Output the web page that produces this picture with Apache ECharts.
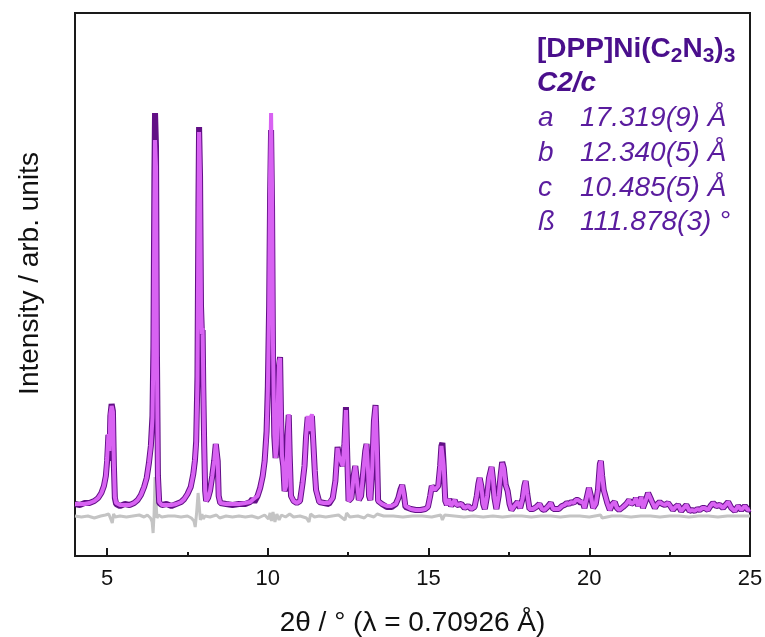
<!DOCTYPE html>
<html>
<head>
<meta charset="utf-8">
<script src="https://cdn.jsdelivr.net/npm/echarts@6/dist/echarts.min.js"></script>
<style>html,body{margin:0;padding:0;background:#fff;}#chart{width:765px;height:637px;}</style>
</head>
<body>
<div id="chart"></div>
<script>
// 2theta positions of the observed / calculated profile
const twoTheta = [4.00,4.15,4.30,4.45,4.60,4.72,4.82,4.90,4.96,5.00,5.04,5.07,5.10,5.14,5.18,5.21,5.24,5.28,5.40,5.55,5.70,5.84,5.95,6.05,6.15,6.23,6.30,6.36,6.41,6.44,6.47,6.49,6.52,6.55,6.58,6.62,6.70,6.85,7.00,7.15,7.30,7.40,7.50,7.60,7.68,7.73,7.77,7.81,7.84,7.86,7.89,7.92,7.95,7.97,7.99,8.02,8.05,8.08,8.14,8.20,8.27,8.33,8.38,8.41,8.44,8.47,8.52,8.70,8.90,9.10,9.30,9.45,9.52,9.58,9.68,9.76,9.84,9.90,9.96,10.00,10.04,10.07,10.10,10.13,10.16,10.20,10.24,10.28,10.32,10.35,10.38,10.41,10.44,10.48,10.52,10.57,10.61,10.65,10.68,10.72,10.80,10.90,11.00,11.08,11.14,11.19,11.24,11.30,11.37,11.42,11.46,11.50,11.54,11.60,11.75,11.90,12.02,12.10,12.17,12.21,12.26,12.33,12.38,12.43,12.47,12.51,12.60,12.67,12.72,12.77,12.83,12.90,12.97,13.03,13.07,13.11,13.15,13.19,13.25,13.30,13.35,13.39,13.43,13.55,13.70,13.85,13.98,14.06,14.13,14.18,14.23,14.28,14.45,14.60,14.75,14.90,14.98,15.05,15.10,15.14,15.19,15.24,15.30,15.36,15.40,15.43,15.47,15.52,15.57,15.63,15.70,15.76,15.81,15.87,15.93,16.02,16.12,16.23,16.33,16.43,16.50,16.55,16.59,16.64,16.70,16.75,16.82,16.88,16.92,16.96,17.00,17.05,17.11,17.18,17.24,17.29,17.34,17.40,17.46,17.52,17.58,17.67,17.77,17.85,17.93,17.98,18.02,18.07,18.14,18.25,18.35,18.45,18.53,18.60,18.70,18.80,18.88,18.94,19.05,19.15,19.23,19.30,19.37,19.44,19.52,19.58,19.65,19.73,19.80,19.85,19.92,19.99,20.05,20.12,20.20,20.27,20.33,20.36,20.40,20.45,20.50,20.56,20.64,20.72,20.79,20.86,20.93,21.05,21.15,21.24,21.30,21.34,21.40,21.45,21.52,21.57,21.62,21.67,21.75,21.83,21.90,21.94,22.04,22.12,22.19,22.27,22.35,22.45,22.52,22.60,22.68,22.76,22.86,22.94,23.02,23.12,23.20,23.28,23.36,23.43,23.52,23.59,23.69,23.77,23.85,23.95,24.06,24.16,24.24,24.32,24.42,24.53,24.63,24.73,24.84,24.94,25.00];
// observed intensity (arb. units)
const obsI = [2,1,3,3,5,8,13,20,30,45,71,45,90,102,95,40,8,2,0,2,1,3,6,11,19,28,43,60,90,160,330,393,360,150,30,3,1,2,0,2,4,7,12,19,32,45,65,130,300,379,330,200,170,176,120,60,15,5,8,15,30,45,62,64,45,10,3,2,1,2,2,4,7,4,10,18,30,45,75,120,200,310,376,300,150,70,48,60,110,140,149,90,50,40,15,20,70,91,50,10,5,3,5,23,40,70,89,72,90,60,35,16,14,4,3,2,8,25,59,50,46,40,60,99,50,5,8,30,40,25,6,10,35,55,62,40,10,6,40,85,101,60,5,2,-1,-1,2,8,17,21,12,-1,-3,-4,-4,-3,-1,10,20,21,16,14,20,40,60,63,40,5,1,7,0,3,6,1,0,2,-2,0,-3,-1,10,22,28,20,2,-3,10,28,30,39,28,8,-3,10,30,44,38,21,15,2,-4,0,4,-2,8,20,25,12,-3,-3,-1,2,-3,-4,-1,3,-3,-5,-3,0,1,3,2,4,3,6,6,3,4,-2,8,18,10,-2,2,16,42,45,30,16,14,3,-4,2,4,-2,-4,-1,2,6,2,0,4,8,0,4,9,-2,5,13,8,5,-2,2,4,2,1,3,0,-4,-1,1,-5,-2,1,-5,-4,-5,-3,-4,-2,-2,-4,0,3,0,1,-2,1,4,-2,-5,0,-4,0,-4,-3];
// calculated intensity (arb. units)
const calcI = [2,2,2,3,5,8,13,20,30,48,72,55,92,100,94,42,9,3,1,1,1,3,6,11,19,28,43,60,88,150,300,366,340,140,30,4,1,1,1,2,4,7,12,19,32,46,63,125,290,374,330,200,172,178,125,60,15,5,8,15,30,45,62,63,45,10,3,2,2,2,3,4,6,4,10,18,30,45,72,115,200,330,393,320,160,72,48,62,115,145,148,92,50,40,15,20,70,92,50,10,5,3,5,23,40,70,90,75,92,60,35,16,14,4,3,3,8,25,58,50,48,40,62,96,50,5,8,30,40,25,6,10,35,55,62,40,10,6,40,85,100,60,5,2,0,0,2,8,16,21,12,0,-3,-4,-4,-3,-1,10,20,22,16,14,20,40,60,62,40,5,1,7,0,3,6,1,0,2,-2,0,-3,-1,10,22,28,20,2,-3,10,28,30,39,28,8,-3,10,30,43,38,21,15,2,-4,0,4,-2,8,20,25,12,-3,-3,-1,2,-3,-4,-1,3,-3,-5,-3,0,1,3,2,4,3,6,6,4,4,-2,8,18,10,-2,2,16,42,45,30,16,14,3,-4,2,4,-2,-4,-1,2,6,2,0,4,8,0,4,9,-2,5,13,8,5,-2,2,4,2,1,3,0,-4,-1,1,-5,-2,1,-5,-4,-5,-3,-4,-2,-2,-4,0,3,0,1,-2,1,4,-2,-5,0,-4,0,-4,-3];
// difference curve (offset below the pattern)
const diffTheta = [4.00,4.20,4.40,4.60,4.80,4.95,5.05,5.10,5.16,5.20,5.25,5.40,5.60,5.80,6.00,6.15,6.25,6.35,6.40,6.43,6.46,6.49,6.52,6.55,6.60,6.70,6.90,7.10,7.30,7.50,7.62,7.70,7.74,7.78,7.83,7.87,7.90,7.95,7.99,8.05,8.20,8.40,8.50,8.70,8.90,9.10,9.30,9.50,9.70,9.90,10.02,10.07,10.11,10.16,10.22,10.28,10.35,10.42,10.55,10.68,10.80,11.00,11.20,11.28,11.33,11.45,11.60,11.80,12.00,12.20,12.40,12.45,12.55,12.80,13.00,13.10,13.30,13.40,13.60,13.90,14.20,14.50,14.80,15.10,15.38,15.43,15.50,15.80,16.10,16.40,16.70,17.00,17.30,17.60,17.90,18.20,18.50,18.80,19.10,19.40,19.70,20.00,20.35,20.40,20.70,21.00,21.30,21.60,21.90,22.20,22.50,22.80,23.10,23.40,23.70,24.00,24.30,24.60,25.00];
const diffI = [-10,-11,-10,-12,-10,-9,-8,-12,-17,-8,-11,-10,-11,-10,-9,-11,-9,-12,-16,-27,-8,29,5,-12,-9,-11,-10,-10,-11,-10,-12,-15,-21,-8,13,-2,-14,-8,-13,-10,-11,-9,-12,-10,-11,-10,-11,-10,-12,-9,-13,-7,-15,-6,-16,-8,-14,-9,-11,-8,-11,-10,-12,-16,-8,-11,-10,-11,-10,-9,-14,-7,-11,-10,-12,-9,-11,-8,-10,-10,-11,-10,-10,-11,-9,-14,-9,-10,-11,-10,-11,-10,-11,-10,-10,-11,-10,-10,-11,-10,-10,-11,-9,-12,-10,-10,-11,-10,-10,-11,-10,-10,-11,-10,-10,-11,-10,-10,-10];
const xMajorTicks = [5, 10, 15, 20, 25];
const xMinorTicks = [7.5, 12.5, 17.5, 22.5];
const spaceGroup = 'C2/c';
const cellLabels = ['a', 'b', 'c', 'ß'];
const cellValues = ['17.319(9) Å', '12.340(5) Å', '10.485(5) Å', '111.878(3) °'];

const FONT = '"Liberation Sans", Arial, sans-serif';
const zip = (xs, ys) => xs.map((x, i) => [x, ys[i]]);
const chart = echarts.init(document.getElementById('chart'), null, {renderer: 'canvas'});

const titleColor = '#4a0f8c';
const cellColor = '#5a1c9e';
const rowY = [118, 153, 188, 222];
const graphics = [
  {type: 'text', x: 537, y: 49, style: {
    text: '{b|[DPP]Ni(C}{s|2}{b|N}{s|3}{b|)}{s|3}',
    verticalAlign: 'middle',
    rich: {
      b: {fontFamily: FONT, fontSize: 28, fontWeight: 'bold', fill: titleColor, lineHeight: 36},
      s: {fontFamily: FONT, fontSize: 21, fontWeight: 'bold', fill: titleColor, lineHeight: 21, verticalAlign: 'bottom'}
    }
  }},
  {type: 'text', x: 537, y: 83, style: {text: spaceGroup, fontFamily: FONT, fontSize: 28, fontWeight: 'bold', fontStyle: 'italic', fill: titleColor, verticalAlign: 'middle'}}
];
cellLabels.forEach((l, i) => {
  graphics.push({type: 'text', x: 538, y: rowY[i], style: {text: l, fontFamily: FONT, fontSize: 28, fontStyle: 'italic', fill: cellColor, verticalAlign: 'middle'}});
  graphics.push({type: 'text', x: 580, y: rowY[i], style: {text: cellValues[i], fontFamily: FONT, fontSize: 28, fontStyle: 'italic', fill: cellColor, verticalAlign: 'middle'}});
});

chart.setOption({
  animation: false,
  backgroundColor: '#fff',
  grid: {left: 75, right: 15, top: 13, bottom: 81, show: true, borderColor: '#1a1a1a', borderWidth: 2, backgroundColor: 'transparent', containLabel: false, outerBoundsMode: 'none'},
  xAxis: [
    {type: 'value', min: 4, max: 25,
     name: '2θ / ° (λ = 0.70926 Å)', nameLocation: 'middle', nameGap: 53,
     nameTextStyle: {fontFamily: FONT, fontSize: 28, color: '#111'},
     axisLine: {show: false, onZero: false},
     axisTick: {show: true, inside: true, length: 8, customValues: xMajorTicks, lineStyle: {color: '#1a1a1a', width: 2}},
     axisLabel: {show: true, customValues: xMajorTicks, margin: 12, fontFamily: FONT, fontSize: 22, color: '#111'},
     splitLine: {show: false}},
    {type: 'value', min: 4, max: 25, position: 'bottom',
     axisLine: {show: false, onZero: false},
     axisTick: {show: true, inside: true, length: 4, customValues: xMinorTicks, lineStyle: {color: '#1a1a1a', width: 2}},
     axisLabel: {show: false}, splitLine: {show: false}}
  ],
  yAxis: {type: 'value', min: -50, max: 493,
    name: 'Intensity / arb. units', nameLocation: 'middle', nameGap: 31,
    nameTextStyle: {fontFamily: FONT, fontSize: 28, color: '#111', padding: [0, 0, 0, 22]},
    axisLine: {show: false, onZero: false}, axisTick: {show: false}, axisLabel: {show: false}, splitLine: {show: false}},
  graphic: graphics,
  series: [
    {name: 'difference', type: 'line', data: zip(diffTheta, diffI), showSymbol: false, lineStyle: {color: '#c4c4c4', width: 3}, z: 2},
    {name: 'observed', type: 'line', data: zip(twoTheta, obsI), showSymbol: false, lineStyle: {color: '#620f86', width: 6}, z: 3},
    {name: 'calculated', type: 'line', data: zip(twoTheta, calcI), showSymbol: false, lineStyle: {color: '#d862f2', width: 4}, z: 4}
  ]
});
</script>
</body>
</html>
